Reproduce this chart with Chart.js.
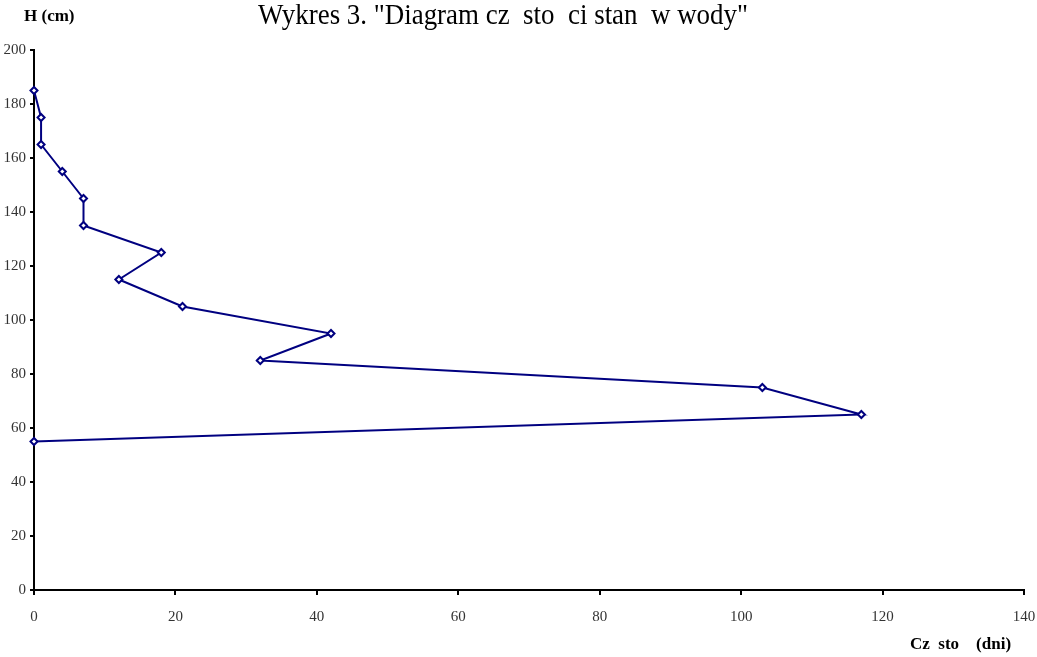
<!DOCTYPE html>
<html>
<head>
<meta charset="utf-8">
<script src="https://cdn.jsdelivr.net/npm/chart.js@4"></script>
<style>
  html,body{margin:0;padding:0;background:#fff;}
  #wrap{width:1037px;height:657px;}
</style>
</head>
<body>
<div id="wrap"><canvas id="chart" width="1037" height="657"></canvas></div>
<script>
// values
const days=[0,1,1,4,7,7,18,12,21,42,32,103,117,0];
const levels=[185,175,165,155,145,135,125,115,105,95,85,75,65,55];
const xTicks=[0,20,40,60,80,100,120,140];
const yTicks=[0,20,40,60,80,100,120,140,160,180,200];

const titleText='Wykres 3. "Diagram cz  sto  ci stan  w wody"';
const yTitle='H (cm)';
const xTitle='Cz  sto    (dni)';

const serif="'Liberation Serif','Times New Roman',serif";

const textPlugin={
  id:'texts',
  afterDraw(chart){
    const c=chart.ctx;
    c.save();
    c.fillStyle='#000';
    c.textBaseline='middle';
    c.font=`29px ${serif}`;
    c.textAlign='center';
    const w=c.measureText(titleText).width;
    const sx=490/w;
    c.translate(503,16);
    c.scale(sx,1);
    c.fillText(titleText,0,0);
    c.restore();
    c.save();
    c.fillStyle='#000';
    c.textBaseline='middle';
    c.font=`bold 17px ${serif}`;
    c.textAlign='left';
    c.fillText(yTitle,24,17);
    c.fillText(xTitle,910,645);
    c.restore();
  }
};

new Chart(document.getElementById('chart'),{
  type:'scatter',
  data:{datasets:[{
    data:days.map((d,i)=>({x:d,y:levels[i]})),
    showLine:true,
    clip:false,
    borderColor:'#000080',
    borderWidth:2,
    tension:0,
    pointStyle:'rectRot',
    pointRadius:3.5,
    pointBorderWidth:2,
    pointBorderColor:'#000080',
    pointBackgroundColor:'#fff'
  }]},
  options:{
    responsive:false,
    animation:false,
    layout:{padding:{top:50,right:13,left:0,bottom:0}},
    plugins:{legend:{display:false},tooltip:{enabled:false},title:{display:false}},
    scales:{
      x:{
        type:'linear',min:0,max:140,
        afterBuildTicks:s=>{s.ticks=xTicks.map(v=>({value:v}));},
        afterFit:s=>{s.height=67;s.paddingRight=0;s.paddingLeft=0;},
        border:{display:true,color:'#000',width:2},
        grid:{display:true,drawOnChartArea:false,drawTicks:true,tickLength:5,color:'#000',lineWidth:2},
        ticks:{color:'#333',font:{family:serif,size:15},padding:13,maxRotation:0}
      },
      y:{
        type:'linear',min:0,max:200,
        afterBuildTicks:s=>{s.ticks=yTicks.map(v=>({value:v}));},
        afterFit:s=>{s.width=34;s.paddingTop=0;s.paddingBottom=0;},
        border:{display:true,color:'#000',width:2},
        grid:{display:true,drawOnChartArea:false,drawTicks:true,tickLength:4,color:'#000',lineWidth:2},
        ticks:{color:'#333',font:{family:serif,size:15},padding:4}
      }
    }
  },
  plugins:[textPlugin]
});
</script>
</body>
</html>
